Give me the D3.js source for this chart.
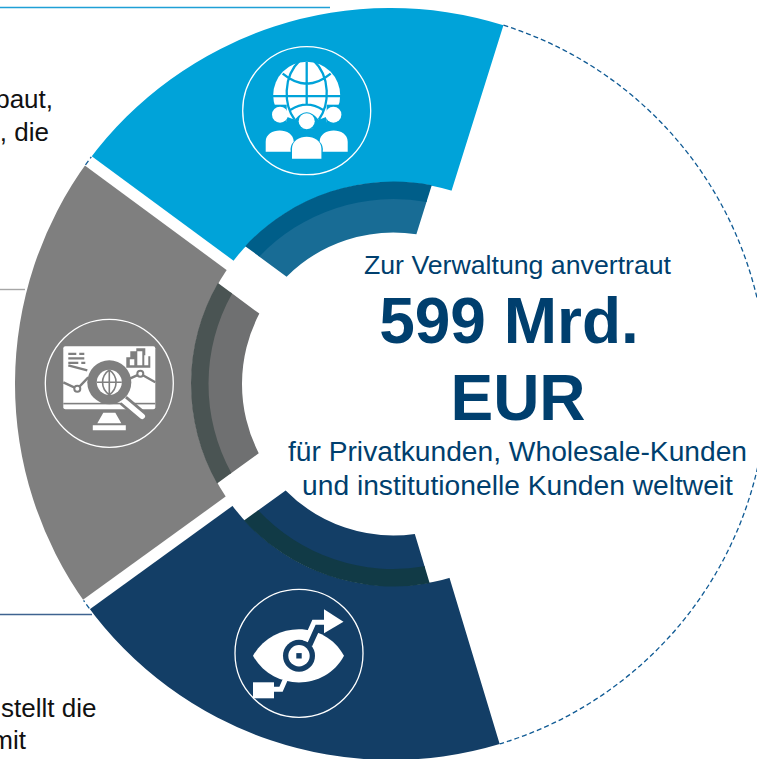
<html>
<head>
    <title>Zur Verwaltung anvertraut</title>
    <style>
        html, body { margin: 0; padding: 0; background: #fff; overflow: hidden; }
        svg { display: block; }
        text { font-family: "Liberation Sans", Arial, sans-serif; }
    </style>
</head>
<body>
<div id="chart"></div>
</body>
<script src="https://d3js.org/d3.v7.min.js"></script>
<script>

  const width = 757;
  const height = 759;

  // segments, clockwise from the blue one. values are degrees of the ring
  const segments = ['blue', 'open', 'navy', 'gray'];
  const sweepDegrees = [71.0, 145.8, 70.9, 72.3];
  const firstAngleDegrees = -53.6;

  const outerColors = {blue: '#00a3d9', navy: '#133e66', gray: '#7f7f7f'};
  const bandColors = {blue: '#005e89', navy: '#113a46', gray: '#4a5453'};
  const innerColors = {blue: '#186c95', navy: '#133e66', gray: '#6f7071'};

  const centerLines = ['Zur Verwaltung anvertraut', '599 Mrd.', 'EUR', 'für Privatkunden, Wholesale-Kunden', 'und institutionelle Kunden weltweit'];
  const cutLeftLines = ['baut,', ', die', 'stellt die', 'mit'];

  const cx = 391, cy = 384;
  // the inner rings are not quite concentric with the outer circle
  const cxInner = 393.5;
  const rOuter = 376, rMid = 202, rBand = 185, rInner = 151.5;

  const svg = d3.select('#chart')
    .append('svg')
    .attr('width', width)
    .attr('height', height)

  const rad = d => d * Math.PI / 180;
  const pie = d3.pie().sort(null)
    .startAngle(rad(firstAngleDegrees))
    .endAngle(rad(firstAngleDegrees + 360));
  const slices = pie(sweepDegrees).map((s, i) => ({...s, name: segments[i]}));
  const filled = slices.filter(s => s.name !== 'open');

  // thin leader lines going off to the cut-off captions
  const leaders = [
    {x1: 0, x2: 330, y: 7.5, color: '#1fa0d6'},
    {x1: 0, x2: 25, y: 289.5, color: '#a6a6a6'},
    {x1: 0, x2: 92, y: 614.5, color: '#3f6390'}
  ];
  svg.selectAll('line.leader')
    .data(leaders)
    .join('line')
    .attr('class', 'leader')
    .attr('x1', d => d.x1)
    .attr('x2', d => d.x2)
    .attr('y1', d => d.y)
    .attr('y2', d => d.y)
    .attr('stroke', d => d.color)
    .attr('stroke-width', 1.4)

  const ring = svg.append('g').attr('transform', `translate(${cx}, ${cy})`);

  // outer wedges, the hole is cut below with a white disc
  const outerArc = d3.arc().innerRadius(rMid - 30).outerRadius(rOuter);
  ring.selectAll('path.outer')
    .data(filled)
    .join('path')
    .attr('class', 'outer')
    .attr('d', outerArc)
    .attr('fill', d => outerColors[d.name])

  // white gaps between the wedges, same width all the way along
  const gapAngles = [slices[0].startAngle, slices[3].startAngle];
  const gapLine = d3.lineRadial();
  ring.selectAll('path.gap')
    .data(gapAngles)
    .join('path')
    .attr('class', 'gap')
    .attr('d', a => gapLine([[a, 0], [a, rOuter + 6]]))
    .attr('stroke', '#fff')
    .attr('stroke-width', 11.6)
    .attr('fill', 'none')

  const inner = svg.append('g').attr('transform', `translate(${cxInner}, ${cy})`);
  inner.append('circle').attr('r', rMid).attr('fill', '#fff')

  // lighter inner part first so the dark band sits over the seam
  const pad = {padRadius: 200, padAngle: 0.23};
  const innerArc = d3.arc().innerRadius(rInner).outerRadius(rBand + 2).padRadius(pad.padRadius).padAngle(pad.padAngle);
  const bandArc = d3.arc().innerRadius(rBand).outerRadius(rMid + 0.5).padRadius(pad.padRadius).padAngle(pad.padAngle);
  inner.selectAll('path.inner')
    .data(filled)
    .join('path')
    .attr('class', 'inner')
    .attr('d', innerArc)
    .attr('fill', d => innerColors[d.name])
  inner.selectAll('path.band')
    .data(filled)
    .join('path')
    .attr('class', 'band')
    .attr('d', bandArc)
    .attr('fill', d => bandColors[d.name])

  // dashed outline on the open side, plus the bits that show in the gaps
  const dashed = [
    [slices[1].startAngle, slices[1].endAngle],
    [gapAngles[0] - 0.013, gapAngles[0] + 0.013],
    [gapAngles[1] - 0.013, gapAngles[1] + 0.013]
  ];
  const arcPath = ([a0, a1]) => {
    const p = d3.path();
    p.arc(0, 0, rOuter, a0 - Math.PI / 2, a1 - Math.PI / 2);
    return p.toString();
  };
  ring.selectAll('path.dash')
    .data(dashed)
    .join('path')
    .attr('class', 'dash')
    .attr('d', arcPath)
    .attr('fill', 'none')
    .attr('stroke', '#0f5a94')
    .attr('stroke-width', 1.3)
    .attr('stroke-dasharray', '5,3')

  // circles round the icons
  const badges = [
    {name: 'blue', x: 306.7, y: 110.7},
    {name: 'gray', x: 109.3, y: 383.3},
    {name: 'navy', x: 299, y: 653.3}
  ];
  const badge = svg.selectAll('g.badge')
    .data(badges)
    .join('g')
    .attr('class', 'badge')
    .attr('transform', d => `translate(${d.x}, ${d.y})`)
  badge.append('circle')
    .attr('r', 64)
    .attr('fill', 'none')
    .attr('stroke', '#fff')
    .attr('stroke-width', 1.3)

  // globe with three people
  const globeIcon = badge.filter(d => d.name === 'blue');
  const bg1 = outerColors.blue;
  globeIcon.append('circle').attr('cy', -15.5).attr('r', 33.5).attr('fill', '#fff')
  globeIcon.append('rect').attr('x', -36).attr('y', -6).attr('width', 16).attr('height', 24).attr('fill', bg1)
  globeIcon.append('rect').attr('x', 20).attr('y', -6).attr('width', 16).attr('height', 24).attr('fill', bg1)
  globeIcon.append('path')
    .attr('d', 'M-20,18 L-20,6 L-12,9 Q0,-6 12,9 L20,6 L20,18 Z')
    .attr('fill', bg1)
  globeIcon.append('path')
    .attr('d', 'M0,-49 V-6 M-35,-14.5 H35 M-24,-37 Q0,-17 24,-37 M-7,-50 C-24,-34 -23,-6 -12,9 M7,-50 C24,-34 23,-6 12,9 M-16,-1 Q0,-11 16,-1')
    .attr('fill', 'none')
    .attr('stroke', bg1)
    .attr('stroke-width', 2.3)
  globeIcon.append('g').selectAll('circle')
    .data([[-26.7, 4], [26.7, 4], [0, 10.5]])
    .join('circle')
    .attr('cx', d => d[0])
    .attr('cy', d => d[1])
    .attr('r', 8)
    .attr('fill', '#fff')
  globeIcon.append('path')
    .attr('d', 'M-41,41 V31 C-41,16 -13,16 -13,31 Q-17,35 -16,41 Z M41,41 V31 C41,16 13,16 13,31 Q17,35 16,41 Z')
    .attr('fill', '#fff')
  globeIcon.append('path')
    .attr('d', 'M-14.7,48 V38 C-14.7,22 14.7,22 14.7,38 V48 Z')
    .attr('fill', '#fff')

  // monitor with magnifying glass
  const screenIcon = badge.filter(d => d.name === 'gray');
  const bg2 = outerColors.gray;
  screenIcon.append('rect').attr('x', -46).attr('y', -37).attr('width', 92).attr('height', 63).attr('rx', 2).attr('fill', '#fff')
  screenIcon.append('rect').attr('x', -46).attr('y', 19.5).attr('width', 92).attr('height', 1.6).attr('fill', bg2)
  screenIcon.append('path').attr('d', 'M-6,29.5 H6 L12,40 H-12 Z M-16.5,42 H16.5 V47 H-16.5 Z').attr('fill', '#fff')
  screenIcon.append('path')
    .attr('d', 'M-41,-29.5 H-33 M-30,-29.5 H-25 M-41,-25 H-25 M-41,-20.5 H-31 M-28,-20.5 H-24')
    .attr('stroke', bg2).attr('stroke-width', 2.2).attr('fill', 'none')
  screenIcon.append('path').attr('d', 'M17,-18 V-26 H21 V-32 H27 V-35 H36 V-27 H41 V-15.5 H17 Z').attr('fill', bg2)
  screenIcon.append('path').attr('d', 'M20.5,-18 V-24 H25 V-18 Z M28,-18 V-32 H33 V-18 Z M35,-18 V-28 H39 V-18 Z').attr('fill', '#fff')
  screenIcon.append('path')
    .attr('d', 'M-46,-1 L-32,5.5 L-21,-6 M-41,-18 L-22,-13 M21,-5 L31,-9.5 L46,-1')
    .attr('stroke', bg2).attr('stroke-width', 2.4).attr('fill', 'none')
  screenIcon.append('g').selectAll('circle')
    .data([[-32, 5.5], [31, -9.5]])
    .join('circle')
    .attr('cx', d => d[0])
    .attr('cy', d => d[1])
    .attr('r', 3)
    .attr('fill', '#fff')
    .attr('stroke', bg2)
    .attr('stroke-width', 2)
  screenIcon.append('line').attr('x1', 14).attr('y1', 17).attr('x2', 33).attr('y2', 33).attr('stroke', bg2).attr('stroke-width', 11)
  screenIcon.append('line').attr('x1', 14).attr('y1', 17).attr('x2', 33).attr('y2', 33).attr('stroke', '#fff').attr('stroke-width', 5.5).attr('stroke-linecap', 'round')
  screenIcon.append('circle').attr('cy', -1).attr('r', 22).attr('fill', bg2)
  screenIcon.append('circle').attr('cy', -1).attr('r', 12.5).attr('fill', '#fff')
  screenIcon.append('path')
    .attr('d', 'M0,-13.5 V12 M-12.5,-1 H12.5 M0,-13.5 C-9,-7 -9,5 0,11.5 M0,-13.5 C9,-7 9,5 0,11.5')
    .attr('stroke', bg2).attr('stroke-width', 1.6).attr('fill', 'none')

  // eye with arrow running through it
  const eyeIcon = badge.filter(d => d.name === 'navy');
  const bg3 = outerColors.navy;
  eyeIcon.append('path')
    .attr('d', 'M-46,2.5 C-26,-33 26,-33 45,2.5 C26,38 -26,38 -46,2.5 Z')
    .attr('fill', '#fff')
  eyeIcon.append('path')
    .attr('d', 'M-13,29 L-20,38 M9,-9 L20,-33')
    .attr('stroke', bg3).attr('stroke-width', 9).attr('fill', 'none')
  eyeIcon.append('circle').attr('cy', 2.5).attr('r', 16).attr('fill', bg3)
  eyeIcon.append('circle').attr('cy', 2.5).attr('r', 10.7).attr('fill', '#fff')
  eyeIcon.append('rect').attr('x', -2.7).attr('y', -0.2).attr('width', 5.4).attr('height', 5.4).attr('fill', bg3)
  eyeIcon.append('path')
    .attr('d', 'M6.5,-12 L15,-31 H26')
    .attr('stroke', '#fff').attr('stroke-width', 5).attr('fill', 'none')
  eyeIcon.append('path').attr('d', 'M25,-44 L44.5,-31.5 L25,-20 Z').attr('fill', '#fff')
  eyeIcon.append('path')
    .attr('d', 'M-11,20 L-18,36 H-26')
    .attr('stroke', '#fff').attr('stroke-width', 5).attr('fill', 'none')
  eyeIcon.append('rect').attr('x', -46).attr('y', 29).attr('width', 21).attr('height', 16).attr('fill', '#fff')

  // centre text
  const centerStyle = [
    {x: 517.5, y: 273.5, size: 26.7, weight: 400},
    {x: 509, y: 342.5, size: 64, weight: 700},
    {x: 518, y: 419.5, size: 64, weight: 700},
    {x: 517.5, y: 461, size: 28.2, weight: 400},
    {x: 517.5, y: 495, size: 28.2, weight: 400}
  ];
  svg.selectAll('text.center')
    .data(centerLines)
    .join('text')
    .attr('class', 'center')
    .attr('x', (d, i) => centerStyle[i].x)
    .attr('y', (d, i) => centerStyle[i].y)
    .attr('font-size', (d, i) => centerStyle[i].size)
    .attr('font-weight', (d, i) => centerStyle[i].weight)
    .attr('text-anchor', 'middle')
    .attr('fill', '#003f6e')
    .text(d => d)

  // captions, only their right ends are in the picture
  const cutStyle = [
    {x: 53, y: 108},
    {x: 49, y: 141},
    {x: 96.5, y: 717},
    {x: 26, y: 749}
  ];
  svg.selectAll('text.cut')
    .data(cutLeftLines)
    .join('text')
    .attr('class', 'cut')
    .attr('x', (d, i) => cutStyle[i].x)
    .attr('y', (d, i) => cutStyle[i].y)
    .attr('font-size', 26)
    .attr('text-anchor', 'end')
    .attr('fill', '#111')
    .text(d => d)

</script>
</html>
